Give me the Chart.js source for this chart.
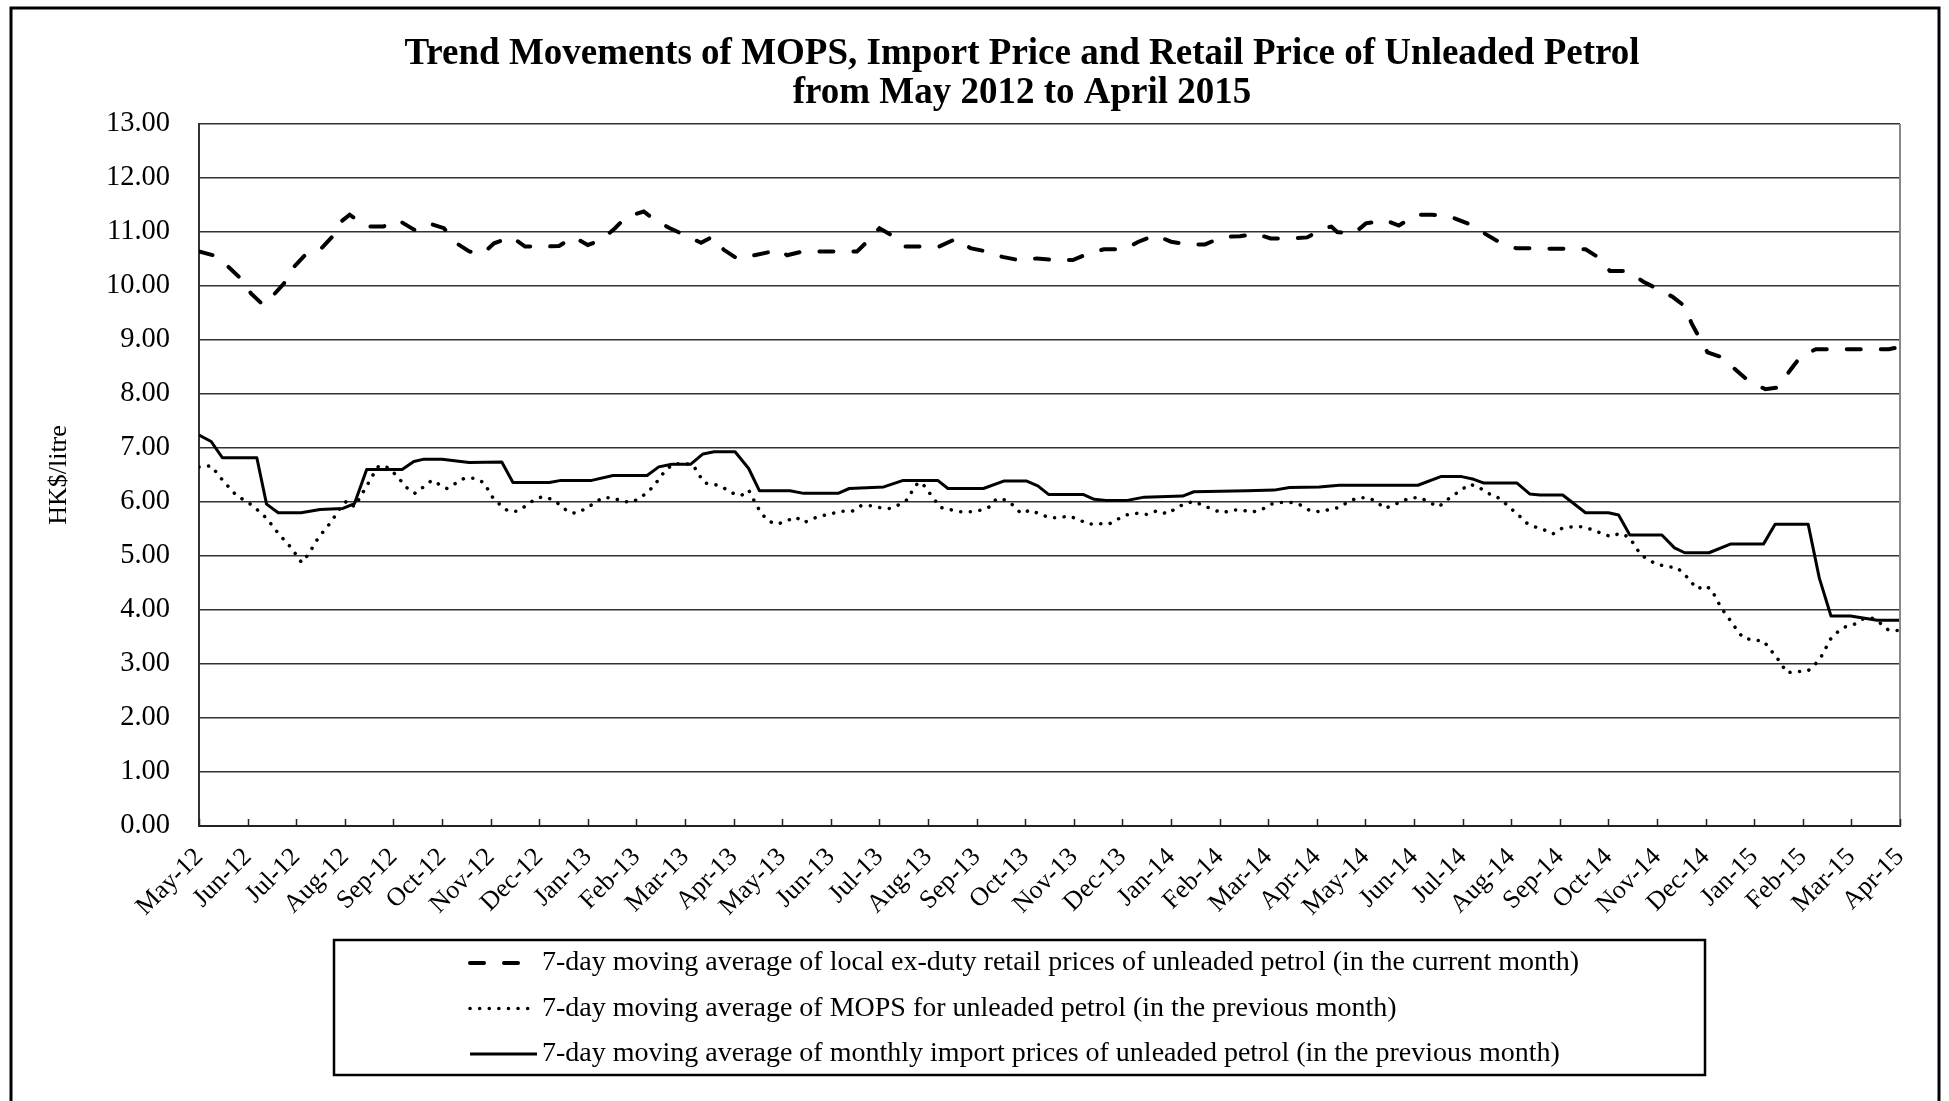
<!DOCTYPE html>
<html>
<head>
<meta charset="utf-8">
<title>Trend Movements of MOPS, Import Price and Retail Price of Unleaded Petrol</title>
<script src="https://cdn.jsdelivr.net/npm/chart.js@4.4.1/dist/chart.umd.min.js"></script>
<style>
  html, body { margin: 0; padding: 0; background: #fff; }
  #wrap { position: relative; width: 1949px; height: 1101px; }
</style>
</head>
<body>
<div id="wrap"><canvas id="petrolChart" width="1949" height="1101"></canvas></div>
<script>
// Month labels on the x axis (one tick per month)
const monthLabels = [
  'May-12', 'Jun-12', 'Jul-12', 'Aug-12', 'Sep-12', 'Oct-12', 'Nov-12', 'Dec-12',
  'Jan-13', 'Feb-13', 'Mar-13', 'Apr-13', 'May-13', 'Jun-13', 'Jul-13', 'Aug-13',
  'Sep-13', 'Oct-13', 'Nov-13', 'Dec-13', 'Jan-14', 'Feb-14', 'Mar-14', 'Apr-14',
  'May-14', 'Jun-14', 'Jul-14', 'Aug-14', 'Sep-14', 'Oct-14', 'Nov-14', 'Dec-14',
  'Jan-15', 'Feb-15', 'Mar-15', 'Apr-15'
];

const titleLines = [
  'Trend Movements of MOPS, Import Price and Retail Price of Unleaded Petrol',
  'from May 2012 to April 2015'
];

// Time positions are in months counted from May 2012 (0 = May-12, 35 = Apr-15)
// Retail price (dashed)
const retailT = [
  0, 0.29, 0.6, 0.89, 1.07, 1.32, 1.5, 1.75, 1.93, 2.18,
  2.49, 2.74, 2.92, 3.1, 3.44, 3.79, 4.1, 4.43, 4.73, 5.04,
  5.25, 5.56, 5.84, 6.07, 6.43, 6.71, 7.1, 7.41, 7.7, 8.0,
  8.27, 8.56, 8.79, 9.15, 9.38, 9.69, 10.0, 10.33, 10.56, 10.8,
  11.07, 11.43, 11.8, 11.95, 12.1, 12.43, 12.8, 13.15, 13.54, 13.78,
  14.0, 14.25, 14.53, 14.88, 15.23, 15.59, 15.87, 16.2, 16.53, 16.87,
  17.24, 17.63, 17.98, 18.3, 18.62, 19.05, 19.33, 19.68, 20.0, 20.35,
  20.7, 21.06, 21.42, 21.73, 22.05, 22.44, 22.8, 23.15, 23.3, 23.42,
  23.76, 24.01, 24.4, 24.69, 25.04, 25.37, 25.76, 26.1, 26.4, 26.74,
  27.1, 27.4, 27.76, 28.15, 28.53, 28.79, 29.03, 29.38, 29.72, 29.98,
  30.32, 30.58, 30.71, 30.88, 31.04, 31.34, 31.63, 31.9, 32.23, 32.48,
  32.74, 32.95, 33.27, 33.61, 34.0, 34.39, 34.77, 35
];
const retailPrice = [
  10.64, 10.57, 10.36, 10.11, 9.86, 9.65, 9.8, 10.05, 10.33, 10.57,
  10.67, 10.91, 11.19, 11.32, 11.1, 11.1, 11.22, 11.04, 11.16, 11.07,
  10.82, 10.64, 10.6, 10.79, 10.91, 10.73, 10.73, 10.74, 10.91, 10.76,
  10.85, 11.07, 11.28, 11.38, 11.22, 11.07, 10.94, 10.8, 10.91, 10.67,
  10.51, 10.57, 10.64, 10.67, 10.57, 10.64, 10.64, 10.64, 10.64, 10.85,
  11.07, 10.94, 10.73, 10.73, 10.73, 10.88, 10.7, 10.64, 10.54, 10.48,
  10.51, 10.48, 10.48, 10.6, 10.68, 10.68, 10.82, 10.94, 10.82, 10.77,
  10.77, 10.91, 10.92, 10.97, 10.88, 10.88, 10.9, 11.07, 11.1, 11.0,
  10.97, 11.16, 11.22, 11.12, 11.32, 11.32, 11.28, 11.16, 11.0, 10.82,
  10.7, 10.7, 10.69, 10.69, 10.68, 10.53, 10.28, 10.28, 10.08, 9.96,
  9.8, 9.62, 9.31, 9.03, 8.77, 8.68, 8.44, 8.23, 8.09, 8.12,
  8.44, 8.69, 8.83, 8.83, 8.83, 8.83, 8.83, 8.87
];

// MOPS (dotted)
const mopsT = [
  0, 0.25, 0.48, 0.76, 1.11, 1.39, 1.63, 1.9, 2.11, 2.25,
  2.45, 2.71, 2.92, 3.04, 3.2, 3.4, 3.6, 3.7, 3.88, 4.03,
  4.3, 4.45, 4.79, 5.1, 5.46, 5.66, 5.86, 6.06, 6.22, 6.36,
  6.55, 6.73, 6.89, 7.07, 7.26, 7.44, 7.59, 7.76, 7.96, 8.12,
  8.3, 8.5, 8.69, 8.89, 9.07, 9.24, 9.37, 9.5, 9.62, 9.78,
  10.02, 10.17, 10.29, 10.41, 10.6, 10.78, 10.96, 11.16, 11.31, 11.39,
  11.49, 11.6, 11.73, 11.9, 12.09, 12.28, 12.45, 12.65, 12.85, 13.04,
  13.24, 13.44, 13.62, 13.83, 14.04, 14.23, 14.43, 14.6, 14.68, 14.8,
  14.88, 15.01, 15.13, 15.25, 15.45, 15.67, 15.88, 16.1, 16.27, 16.41,
  16.59, 16.77, 16.91, 17.11, 17.29, 17.5, 17.7, 17.9, 18.11, 18.3,
  18.52, 18.72, 18.9, 19.08, 19.3, 19.5, 19.72, 19.92, 20.08, 20.26,
  20.46, 20.66, 20.86, 21.06, 21.26, 21.46, 21.66, 21.87, 22.06, 22.26,
  22.47, 22.65, 22.86, 23.07, 23.26, 23.46, 23.66, 23.85, 24.04, 24.23,
  24.39, 24.55, 24.74, 24.94, 25.13, 25.32, 25.51, 25.65, 25.82, 25.98,
  26.15, 26.34, 26.52, 26.7, 26.87, 27.02, 27.17, 27.32, 27.49, 27.69,
  27.86, 28.04, 28.24, 28.45, 28.66, 28.85, 29.05, 29.24, 29.42, 29.55,
  29.65, 29.81, 30.0, 30.21, 30.4, 30.56, 30.69, 30.83, 30.99, 31.13,
  31.21, 31.31, 31.42, 31.55, 31.65, 31.78, 32.0, 32.19, 32.31, 32.44,
  32.56, 32.67, 32.89, 33.1, 33.24, 33.37, 33.47, 33.57, 33.7, 33.85,
  34.05, 34.23, 34.42, 34.59, 34.76, 35
];
const mopsPrice = [
  6.65, 6.67, 6.41, 6.13, 5.93, 5.7, 5.42, 5.15, 4.88, 5.03,
  5.33, 5.62, 5.91, 6.02, 5.91, 6.22, 6.53, 6.67, 6.64, 6.52,
  6.24, 6.16, 6.4, 6.25, 6.44, 6.44, 6.36, 6.06, 5.93, 5.83,
  5.83, 5.93, 6.04, 6.1, 6.05, 5.94, 5.82, 5.79, 5.88, 5.97,
  6.08, 6.08, 6.02, 5.99, 6.07, 6.19, 6.31, 6.47, 6.61, 6.71,
  6.71, 6.68, 6.5, 6.35, 6.33, 6.27, 6.17, 6.12, 6.22, 6.08,
  5.91, 5.76, 5.64, 5.59, 5.65, 5.72, 5.62, 5.7, 5.75, 5.79,
  5.83, 5.83, 5.93, 5.93, 5.89, 5.88, 5.96, 6.06, 6.22, 6.36,
  6.35, 6.19, 6.05, 5.9, 5.86, 5.82, 5.82, 5.85, 5.91, 6.06,
  6.04, 5.93, 5.79, 5.85, 5.78, 5.71, 5.71, 5.74, 5.67, 5.59,
  5.6, 5.59, 5.68, 5.76, 5.79, 5.77, 5.84, 5.78, 5.87, 5.96,
  6.01, 5.94, 5.86, 5.8, 5.85, 5.85, 5.81, 5.86, 5.96, 5.99,
  5.99, 5.95, 5.84, 5.82, 5.86, 5.9, 6.01, 6.08, 6.08, 6.01,
  5.88, 5.93, 6.01, 6.08, 6.08, 5.99, 5.91, 6.02, 6.13, 6.23,
  6.33, 6.27, 6.16, 6.1, 5.98, 5.86, 5.74, 5.61, 5.54, 5.48,
  5.41, 5.51, 5.54, 5.54, 5.49, 5.42, 5.36, 5.42, 5.35, 5.19,
  5.04, 4.93, 4.85, 4.8, 4.79, 4.67, 4.53, 4.39, 4.45, 4.37,
  4.22, 4.06, 3.91, 3.76, 3.62, 3.48, 3.44, 3.43, 3.29, 3.15,
  3.0, 2.84, 2.86, 2.87, 2.98, 3.12, 3.29, 3.46, 3.58, 3.68,
  3.73, 3.83, 3.85, 3.76, 3.63, 3.62
];

// Import price (solid)
const importT = [
  0, 0.25, 0.48, 1.19, 1.39, 1.63, 2.1, 2.49, 2.96, 3.2,
  3.45, 4.18, 4.42, 4.61, 5.0, 5.56, 6.23, 6.46, 7.21, 7.45,
  8.08, 8.52, 9.22, 9.46, 9.73, 10.12, 10.37, 10.6, 11.03, 11.31,
  11.53, 12.16, 12.44, 13.15, 13.38, 14.09, 14.49, 15.2, 15.41, 16.14,
  16.57, 17.02, 17.26, 17.48, 18.19, 18.42, 18.66, 19.1, 19.45, 20.24,
  20.47, 21.57, 22.12, 22.44, 23.05, 23.46, 25.08, 25.55, 25.98, 26.23,
  26.44, 27.12, 27.38, 27.59, 28.06, 28.53, 29.0, 29.21, 29.44, 30.1,
  30.36, 30.57, 31.07, 31.51, 32.19, 32.43, 33.11, 33.34, 33.58, 33.98,
  34.24, 34.53, 35
];
const importPrice = [
  7.24, 7.12, 6.82, 6.82, 5.96, 5.8, 5.8, 5.86, 5.88, 5.97,
  6.6, 6.6, 6.75, 6.79, 6.79, 6.73, 6.74, 6.36, 6.36, 6.4,
  6.4, 6.49, 6.49, 6.65, 6.7, 6.7, 6.89, 6.93, 6.93, 6.62,
  6.21, 6.21, 6.16, 6.16, 6.25, 6.28, 6.4, 6.4, 6.25, 6.25,
  6.39, 6.39, 6.3, 6.14, 6.14, 6.05, 6.03, 6.03, 6.09, 6.11,
  6.19, 6.21, 6.22, 6.27, 6.28, 6.31, 6.31, 6.47, 6.47, 6.42,
  6.35, 6.35, 6.15, 6.13, 6.13, 5.8, 5.8, 5.76, 5.39, 5.39,
  5.15, 5.06, 5.06, 5.22, 5.22, 5.59, 5.59, 4.59, 3.89, 3.89,
  3.85, 3.81, 3.81
];

const yTicks = [0, 1, 2, 3, 4, 5, 6, 7, 8, 9, 10, 11, 12, 13];

const serif = "'Liberation Serif', 'Times New Roman', serif";

function toPoints(ts, vs) {
  return ts.map((t, i) => ({ x: t, y: vs[i] }));
}

// Outer frame, title, plot edge, inward month ticks and the boxed legend
const decorations = {
  id: 'decorations',
  beforeDraw(chart) {
    const ctx = chart.ctx;
    ctx.save();
    ctx.fillStyle = '#fff';
    ctx.fillRect(0, 0, chart.width, chart.height);
    ctx.strokeStyle = '#000';
    ctx.lineWidth = 3;
    ctx.beginPath();
    ctx.moveTo(11, chart.height);
    ctx.lineTo(11, 8);
    ctx.lineTo(1939, 8);
    ctx.lineTo(1939, chart.height);
    ctx.stroke();

    // two-line title, centred a little left of the plot centre as in the source
    ctx.fillStyle = '#000';
    ctx.font = 'bold 37px ' + serif;
    ctx.textAlign = 'center';
    ctx.textBaseline = 'middle';
    titleLines.forEach((line, i) => ctx.fillText(line, 1022, 54 + i * 39));
    ctx.restore();
  },
  afterDraw(chart) {
    const { ctx, chartArea, scales } = chart;
    const x = scales.x;
    ctx.save();
    // right edge of the plot area
    ctx.strokeStyle = '#888';
    ctx.lineWidth = 2;
    ctx.beginPath();
    ctx.moveTo(chartArea.right, chartArea.top);
    ctx.lineTo(chartArea.right, chartArea.bottom);
    ctx.stroke();
    // month ticks pointing into the plot
    ctx.strokeStyle = '#222';
    ctx.lineWidth = 1.5;
    ctx.beginPath();
    x.ticks.forEach(t => {
      const px = Math.round(x.getPixelForValue(t.value)) + 0.5;
      ctx.moveTo(px, chartArea.bottom);
      ctx.lineTo(px, chartArea.bottom - 7);
    });
    ctx.stroke();

    // legend box
    const box = { left: 334, top: 940, width: 1371, height: 135 };
    ctx.strokeStyle = '#000';
    ctx.lineWidth = 2.5;
    ctx.strokeRect(box.left, box.top, box.width, box.height);
    ctx.font = '28px ' + serif;
    ctx.textBaseline = 'middle';
    ctx.fillStyle = '#000';
    chart.data.datasets.forEach((ds, i) => {
      const y = 963 + i * 45.5;
      ctx.save();
      ctx.strokeStyle = ds.borderColor;
      ctx.lineWidth = ds.borderWidth;
      ctx.lineCap = ds.borderCapStyle || 'butt';
      ctx.setLineDash(ds.borderDash || []);
      ctx.beginPath();
      ctx.moveTo(470, y);
      ctx.lineTo(ds.borderDash ? 530 : 537, y);
      ctx.stroke();
      ctx.restore();
      ctx.fillText(ds.label, 542, y);
    });
    ctx.restore();
  }
};

new Chart(document.getElementById('petrolChart'), {
  type: 'line',
  data: {
    datasets: [
      {
        label: '7-day moving average of local ex-duty retail prices of unleaded petrol (in the current month)',
        data: toPoints(retailT, retailPrice),
        borderColor: '#000',
        borderWidth: 4,
        borderDash: [14, 20],
        borderCapStyle: 'round',
        pointRadius: 0
      },
      {
        label: '7-day moving average of MOPS for unleaded petrol (in the previous month)',
        data: toPoints(mopsT, mopsPrice),
        borderColor: '#000',
        borderWidth: 3.5,
        borderDash: [0.1, 9.5],
        borderCapStyle: 'round',
        pointRadius: 0
      },
      {
        label: '7-day moving average of monthly import prices of unleaded petrol (in the previous month)',
        data: toPoints(importT, importPrice),
        borderColor: '#000',
        borderWidth: 3,
        borderJoinStyle: 'round',
        pointRadius: 0
      }
    ]
  },
  options: {
    responsive: false,
    animation: false,
    devicePixelRatio: 1,
    layout: { padding: { left: 20, right: 49, top: 124, bottom: 0 } },
    plugins: {
      legend: { display: false },
      tooltip: { enabled: false },
      title: { display: false }
    },
    scales: {
      x: {
        type: 'linear',
        min: 0,
        max: 35,
        afterFit: s => { s.height = 275; },
        grid: { display: false },
        border: { display: true, color: '#222', width: 2 },
        ticks: {
          stepSize: 1,
          autoSkip: false,
          maxRotation: 45,
          minRotation: 45,
          padding: 8,
          color: '#000',
          font: { family: serif, size: 26 },
          callback: v => monthLabels[v] || ''
        }
      },
      y: {
        min: 0,
        max: 13,
        afterFit: s => { s.width = 179; },
        afterBuildTicks: s => { s.ticks = yTicks.map(v => ({ value: v })); },
        grid: { color: '#333', lineWidth: 1.5, drawTicks: false },
        border: { display: true, color: '#333', width: 2 },
        ticks: {
          padding: 29,
          color: '#000',
          font: { family: serif, size: 28.5 },
          callback: v => v.toFixed(2)
        },
        title: {
          display: true,
          text: 'HK$/litre',
          color: '#000',
          font: { family: serif, size: 26 },
          padding: { top: 24, bottom: 0 }
        }
      }
    }
  },
  plugins: [decorations]
});
</script>
</body>
</html>
